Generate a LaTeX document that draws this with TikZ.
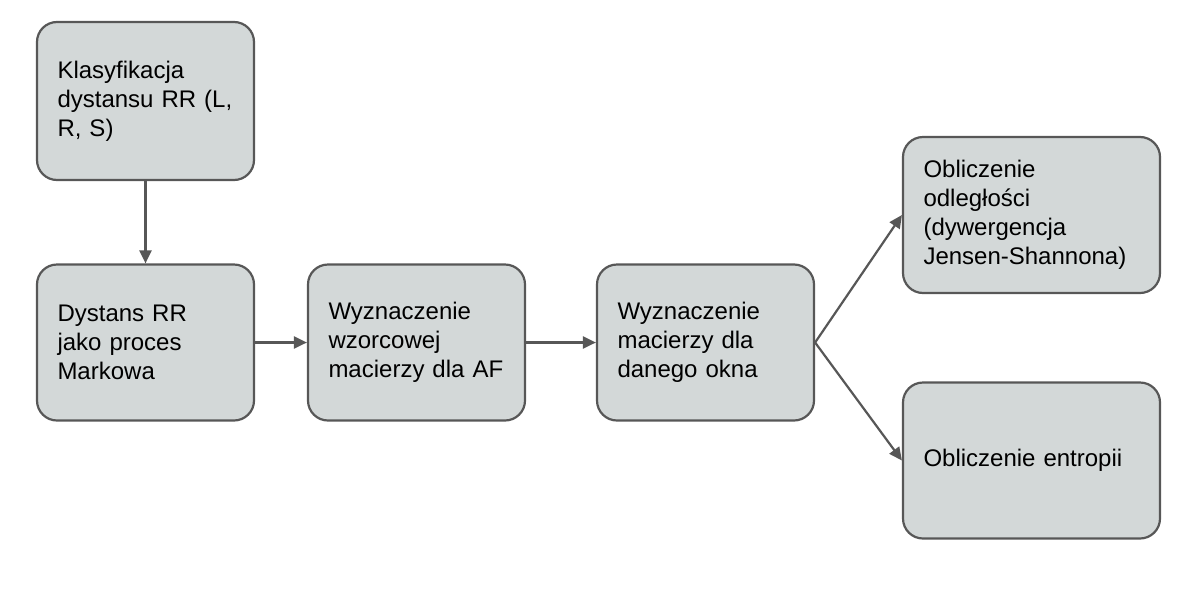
\documentclass[tikz,border=0pt]{standalone}
\usepackage{fontspec}
\setmainfont{Liberation Sans}
\usetikzlibrary{arrows.meta,positioning}

\definecolor{boxfill}{HTML}{D3D8D8}
\definecolor{boxline}{HTML}{575757}

\tikzset{
  stepbox/.style={draw=boxline, line width=2.2pt, fill=boxfill, rounded corners=20pt,
    minimum width=217pt, minimum height=156pt, text width=176pt, inner xsep=20.5pt,
    align=left, font=\fontsize{24}{29}\selectfont},
  widebox/.style={stepbox, minimum width=257pt, text width=216pt},
  flow/.style={draw=boxline, line width=2.2pt, -{Triangle[length=13pt,width=12pt]}}
}

\begin{document}
\begin{tikzpicture}[x=1pt, y=-1pt]
  \useasboundingbox (0,0) rectangle (1188,592);
  % left column and main row
  \node[stepbox, minimum height=158pt] (klas) at (145.5,101) {Klasyfikacja\\dystansu RR (L,\\R, S)};
  \node[stepbox] (markow) at (145.5,342.5) {Dystans RR\\jako proces\\Markowa};
  \node[stepbox] (wzor) at (416.5,342.5) {Wyznaczenie\\wzorcowej\\macierzy dla AF};
  \node[stepbox] (okno) at (705.5,342.5) {Wyznaczenie\\macierzy dla\\danego okna};
  % results
  \node[widebox] (odl) at (1031.5,215) {Obliczenie\\odleg\l{}o\'sci\\(dywergencja\\Jensen-Shannona)};
  \node[widebox] (entr) at (1031.5,460.5) {Obliczenie entropii};

  \draw[flow] (klas) -- (markow);
  \draw[flow] (markow) -- (wzor);
  \draw[flow] (wzor) -- (okno);
  \draw[flow] (okno.east) -- (odl.west);
  \draw[flow] (okno.east) -- (entr.west);
\end{tikzpicture}
\end{document}
